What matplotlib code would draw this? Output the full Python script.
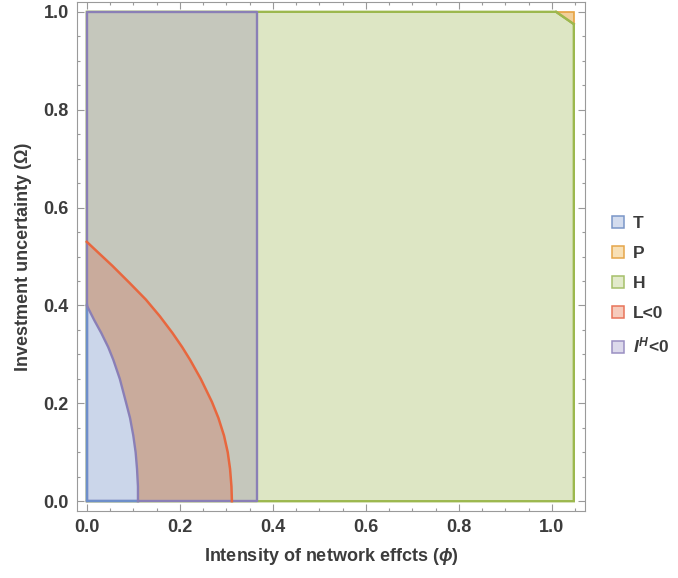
import numpy as np
import matplotlib
matplotlib.use('Agg')
import matplotlib.pyplot as plt
from matplotlib.patches import Polygon, Patch

plt.rcParams['font.family'] = ['Liberation Sans', 'DejaVu Sans']
plt.rcParams['mathtext.fontset'] = 'custom'
plt.rcParams['mathtext.it'] = 'Liberation Sans:italic:bold'
plt.rcParams['mathtext.rm'] = 'Liberation Sans:bold'
plt.rcParams['mathtext.bf'] = 'Liberation Sans:bold'

# boundary of the T region (phi, Omega)
T_phi = [0.0, 0.016, 0.031, 0.046, 0.057, 0.071, 0.084, 0.093, 0.100, 0.105, 0.108, 0.110, 0.110]
T_omega = [0.40, 0.37, 0.344, 0.315, 0.289, 0.25, 0.203, 0.17, 0.134, 0.10, 0.066, 0.03, 0.0]

# boundary L = 0
L_phi = [0.0, 0.028, 0.055, 0.092, 0.127, 0.157, 0.184, 0.205, 0.222, 0.245, 0.269, 0.283,
         0.295, 0.303, 0.308, 0.311, 0.312]
L_omega = [0.53, 0.505, 0.481, 0.446, 0.412, 0.378, 0.344, 0.315, 0.289, 0.25, 0.203, 0.17,
           0.134, 0.10, 0.066, 0.03, 0.0]

# I^H < 0 strip and the H / P corner
IH_phi_max = 0.365
phi_max = 1.047
P_phi = [1.009, 1.047, 1.047]
P_omega = [1.0, 1.0, 0.975]

labels = ['T', 'P', 'H', 'L<0', '$I^H$<0']

c_green_f, c_green_e = '#dde6c4', '#9cb84e'
c_gray_f = '#c5c7bc'
c_brown_f = '#c9ab9c'
c_blue_f, c_blue_e = '#cbd6ea', '#6e8fca'
c_purple_e = '#8a7fb6'
c_red_e = '#e8673e'
c_orange_f, c_orange_e = '#f2cf9a', '#e6a240'
txt = '#3c3c3c'

fig = plt.figure(figsize=(6.78, 5.78), dpi=100)
ax = fig.add_axes([0.1136, 0.1159, 0.7492, 0.8806])

# H region
H_poly = [(0, 0), (phi_max, 0), (P_phi[2], P_omega[2]), (P_phi[0], P_omega[0]), (0, 1)]
ax.add_patch(Polygon(H_poly, closed=True, facecolor=c_green_f, edgecolor=c_green_e, lw=1.7))
# P corner
ax.add_patch(Polygon(list(zip(P_phi, P_omega)), closed=True, facecolor=c_orange_f,
                     edgecolor=c_orange_e, lw=1.2))
ax.plot([P_phi[0], P_phi[2]], [P_omega[0], P_omega[2]], color=c_green_e, lw=1.7)
# I^H < 0 strip
ax.add_patch(Polygon([(0, 0), (IH_phi_max, 0), (IH_phi_max, 1), (0, 1)], closed=True,
                     facecolor=c_gray_f, edgecolor='none'))
# L < 0 band between the two curves
band = list(zip(L_phi, L_omega)) + list(zip(T_phi[::-1], T_omega[::-1]))
ax.add_patch(Polygon(band, closed=True, facecolor=c_brown_f, edgecolor='none'))
# T region
T_poly = [(0, 0)] + list(zip(T_phi[::-1], T_omega[::-1]))
ax.add_patch(Polygon(T_poly, closed=True, facecolor=c_blue_f, edgecolor='none'))

ax.plot([0, IH_phi_max, IH_phi_max, 0, 0], [0, 0, 1, 1, 0], color=c_purple_e, lw=1.7)
ax.plot([0, 0, T_phi[-1]], [T_omega[0], 0, 0], color=c_blue_e, lw=1.7)
ax.plot(T_phi, T_omega, color=c_purple_e, lw=1.7, solid_joinstyle='round')
ax.plot(L_phi, L_omega, color=c_red_e, lw=1.8, solid_joinstyle='round')

ax.set_xlim(-0.021, 1.071)
ax.set_ylim(-0.02, 1.02)
ax.set_xticks(np.arange(0, 1.01, 0.2))
ax.set_yticks(np.arange(0, 1.01, 0.2))
ax.set_xticks(np.arange(0, 1.06, 0.05), minor=True)
ax.set_yticks(np.arange(0, 1.01, 0.05), minor=True)
ax.set_xticklabels(['%.1f' % v for v in np.arange(0, 1.01, 0.2)])
ax.set_yticklabels(['%.1f' % v for v in np.arange(0, 1.01, 0.2)])
ax.tick_params(which='both', direction='in', top=True, right=True, color='#999999', width=0.8)
ax.tick_params(which='major', length=5, labelsize=13, labelcolor=txt, pad=6)
ax.tick_params(which='minor', length=2.5)
for lab in ax.get_xticklabels() + ax.get_yticklabels():
    lab.set_fontweight('bold')
for s in ax.spines.values():
    s.set_color('#9a9a9a')
    s.set_linewidth(0.8)

ax.set_xlabel(r'Intensity of network effcts ($\phi$)', fontsize=13, fontweight='bold', color=txt, labelpad=7)
ax.set_ylabel('Investment uncertainty (\u03a9)', fontsize=13, fontweight='bold', color=txt, labelpad=8)

handles = [Patch(facecolor='#d3dcee', edgecolor='#7a96c8', lw=1.1),
           Patch(facecolor='#f8e0b6', edgecolor='#e5a64a', lw=1.1),
           Patch(facecolor='#e2eacb', edgecolor='#a5c06a', lw=1.1),
           Patch(facecolor='#f6cbbc', edgecolor='#e8745a', lw=1.1),
           Patch(facecolor='#dcd9eb', edgecolor='#9a8fc2', lw=1.1)]
leg = fig.legend(handles, labels, loc='center left', bbox_to_anchor=(0.88, 0.505), frameon=False,
                 handlelength=0.7, handleheight=0.7, handletextpad=0.5, labelspacing=0.85,
                 prop={'size': 12.5, 'weight': 'bold'})
for t in leg.get_texts():
    t.set_color(txt)

fig.savefig('out.png', dpi=100)
